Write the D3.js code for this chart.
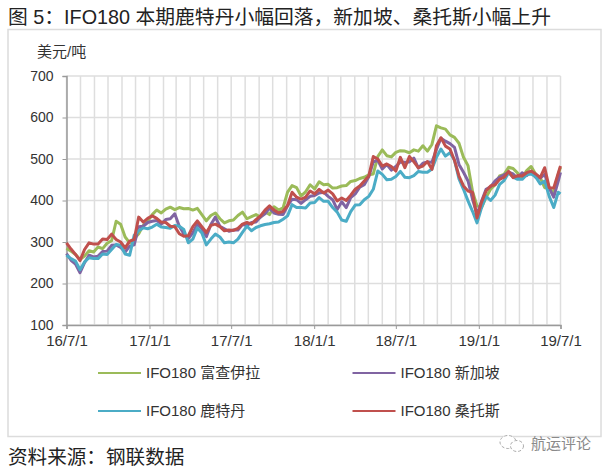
<!DOCTYPE html>
<html>
<head>
<meta charset="utf-8">
<script src="https://cdn.jsdelivr.net/npm/d3@7"></script>
<style>
  body { margin: 0; background: #fff; }
  text { font-family: "Liberation Sans", "Noto Sans CJK SC", sans-serif; fill: #333; }
</style>
</head>
<body>
<svg id="chart" width="611" height="470"></svg>
<script>
// values, one every 10 days, last one is 19/7/1
var green = [285,278,270,258,266,279,276,288,284,297,
  303,350,343,312,298,308,320,340,350,366,
  377,370,379,384,378,383,380,381,377,381,
  366,351,364,370,356,346,351,353,364,372,
  356,361,366,360,373,366,385,377,382,420,
  436,431,411,421,438,428,445,438,439,430,
  431,435,436,446,448,453,456,462,464,506,
  522,508,505,516,520,519,515,522,519,532,
  519,535,580,575,572,558,552,538,504,484,
  422,387,383,408,427,438,459,463,480,477,
  466,455,472,482,463,455,431,430,418,463,480];
var purple = [272,256,247,226,250,268,264,266,277,278,
  292,293,287,276,290,293,337,338,347,350,
  352,343,354,356,368,338,320,308,322,343,
  332,313,342,360,338,332,326,329,329,342,
  340,347,348,360,368,382,370,367,366,387,
  403,402,393,402,410,412,418,420,410,402,
  378,397,383,407,416,432,438,457,493,497,
  476,487,473,482,493,492,493,502,478,490,
  493,492,523,550,543,537,528,487,468,447,
  403,367,398,427,433,447,456,462,468,464,
  453,467,460,470,456,454,463,430,408,447,468];
var blue = [268,260,254,233,252,262,260,260,271,270,
  282,294,292,271,268,316,327,334,332,336,
  343,336,335,333,340,338,330,298,307,334,
  322,293,307,319,312,298,300,298,307,323,
  338,327,335,339,342,344,347,348,355,363,
  390,383,383,382,394,395,407,398,398,383,
  372,353,350,373,389,390,402,410,427,471,
  463,450,451,458,470,456,455,460,470,468,
  468,476,504,524,507,515,497,452,427,399,
  374,346,383,410,400,413,439,448,467,456,
  451,451,462,464,457,440,447,410,383,420,416];
var red = [298,283,270,255,282,298,295,295,307,306,
  319,306,300,286,302,306,360,348,357,363,
  357,348,347,338,337,320,314,315,337,351,
  337,323,340,343,337,327,329,328,333,343,
  347,343,354,363,377,387,377,370,374,388,
  420,408,403,408,423,416,427,418,425,416,
  399,406,400,413,427,435,447,459,506,500,
  483,488,482,471,504,479,506,493,479,483,
  494,475,532,551,531,524,497,459,435,423,
  420,358,396,423,435,438,451,456,470,455,
  460,459,467,471,464,455,479,431,430,466,483];

var yTicks = [100, 200, 300, 400, 500, 600, 700];
var names = ["IFO180 富查伊拉", "IFO180 新加坡", "IFO180 鹿特丹", "IFO180 桑托斯"];
var colors = ["#9BBB59", "#8064A2", "#4BACC6", "#C0504D"];
var series = [green, purple, blue, red];

var start = new Date(2016, 6, 1);
var end = new Date(2019, 6, 1);
var dates = d3.timeDay.range(start, end, 10);
dates.push(end);

var svg = d3.select("#chart");
var x = d3.scaleTime().domain([start, end]).range([66.5, 560.5]);
var y = d3.scaleLinear().domain([100, 700]).range([325, 76]);

// outer frame
svg.append("rect")
  .attr("x", 8).attr("y", 29.5)
  .attr("width", 593).attr("height", 407)
  .attr("fill", "none")
  .attr("stroke", "#dcdcdc")
  .attr("stroke-width", 1.5);

// title and source, full width punctuation
svg.append("text").attr("x", 8).attr("y", 24)
  .style("font-size", "19.8px").style("fill", "#222")
  .text("图 5\uFF1AIFO180 本期鹿特丹小幅回落\uFF0C新加坡、桑托斯小幅上升");
svg.append("text").attr("x", 8).attr("y", 464)
  .style("font-size", "19.6px").style("fill", "#222")
  .text("资料来源\uFF1A钢联数据");
svg.append("text").attr("x", 37).attr("y", 57)
  .style("font-size", "15px")
  .text("美元/吨");

// grid
var months = d3.timeMonth.range(start, d3.timeMonth.offset(end, 1));
svg.append("g").selectAll("line").data(months).enter().append("line")
  .attr("x1", function(d) { return x(d); })
  .attr("x2", function(d) { return x(d); })
  .attr("y1", y(700)).attr("y2", y(100))
  .attr("stroke", "#dedede").attr("stroke-width", 1.5);
svg.append("g").selectAll("line").data(yTicks).enter().append("line")
  .attr("x1", x(start)).attr("x2", x(end))
  .attr("y1", function(d) { return y(d); })
  .attr("y2", function(d) { return y(d); })
  .attr("stroke", "#dedede").attr("stroke-width", 1.5);

// axes
var yAxis = d3.axisLeft(y).tickValues(yTicks).tickSize(4).tickPadding(9);
var xAxis = d3.axisBottom(x)
  .tickValues(d3.timeMonth.range(start, d3.timeMonth.offset(end, 1), 6))
  .tickFormat(d3.timeFormat("%y/%-m/%-d"))
  .tickSize(4).tickPadding(6);

var gy = svg.append("g").attr("transform", "translate(66.5,0)").call(yAxis);
var gx = svg.append("g").attr("transform", "translate(0,325)").call(xAxis);
[gx, gy].forEach(function(g) {
  g.select(".domain").attr("stroke", "#9a9a9a").attr("stroke-width", 1.5);
  g.selectAll("line").attr("stroke", "#9a9a9a");
});
gy.selectAll("text").style("font-size", "14px");
gx.selectAll("text").style("font-size", "15px");

// lines
var line = d3.line()
  .x(function(d, i) { return x(dates[i]); })
  .y(function(d) { return y(d); });

svg.append("g").selectAll("path").data(series).enter().append("path")
  .attr("d", line)
  .attr("fill", "none")
  .attr("stroke", function(d, i) { return colors[i]; })
  .attr("stroke-width", 3)
  .attr("stroke-linejoin", "round");

// legend
var legendX = d3.scalePoint().domain([0, 1]).range([98, 352.5]);
var legendY = d3.scalePoint().domain([0, 1]).range([373, 411]);
var legend = svg.append("g").selectAll("g").data(names).enter().append("g")
  .attr("transform", function(d, i) {
    return "translate(" + legendX(i % 2) + "," + legendY(Math.floor(i / 2)) + ")";
  });
legend.append("line")
  .attr("x1", 0).attr("x2", 43)
  .attr("stroke", function(d, i) { return colors[i]; })
  .attr("stroke-width", 2);
legend.append("text")
  .attr("x", 48).attr("y", 5)
  .style("font-size", "15px")
  .text(function(d) { return d; });

// watermark
var mark = svg.append("g").attr("transform", "translate(512,443)");
mark.append("ellipse").attr("cx", -4).attr("cy", -1).attr("rx", 8).attr("ry", 6.5)
  .attr("fill", "#fff").attr("stroke", "#aaa").attr("stroke-dasharray", "3 2");
mark.append("ellipse").attr("cx", 5).attr("cy", 3).attr("rx", 6.5).attr("ry", 5.5)
  .attr("fill", "#fff").attr("stroke", "#aaa").attr("stroke-dasharray", "3 2");
svg.append("text").attr("x", 531).attr("y", 449)
  .style("font-size", "15px").style("fill", "#8a8a8a")
  .text("航运评论");
</script>
</body>
</html>
